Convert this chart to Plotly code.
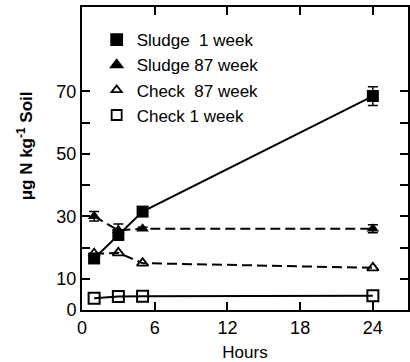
import plotly.graph_objects as go

hours = [1, 3, 5, 24]
sludge_1wk = [16.5, 24.0, 31.5, 68.5]
sludge_1wk_err = [0.8, 1.0, 0.8, 3.0]
sludge_87wk = [30.0, 25.5, 26.0, 26.0]
sludge_87wk_err = [1.5, 2.0, 0.5, 1.3]
check_87wk = [18.0, 18.3, 15.0, 13.5]
check_1wk = [3.8, 4.3, 4.4, 4.6]

legend_names = ["Sludge  1 week", "Sludge 87 week", "Check  87 week", "Check 1 week"]
y_ticks = [0, 10, 30, 50, 70]
y_minor_ticks = [20, 40, 60]
x_ticks = [0, 6, 12, 18, 24]

FONT = "Arial, Liberation Sans, Helvetica, sans-serif"

fig = go.Figure()

# data traces
fig.add_trace(go.Scatter(x=hours, y=check_1wk, mode="lines+markers",
                         line=dict(color="black", width=2),
                         marker=dict(symbol="square-open", size=11, color="black", line=dict(width=2)),
                         showlegend=False))
fig.add_trace(go.Scatter(x=hours, y=check_87wk, mode="lines+markers",
                         line=dict(color="black", width=2, dash="10px,5px"),
                         marker=dict(symbol="triangle-up-open", size=10, color="black", line=dict(width=1.8)),
                         showlegend=False))
fig.add_trace(go.Scatter(x=hours, y=sludge_87wk, mode="lines+markers",
                         line=dict(color="black", width=2, dash="10px,5px"),
                         marker=dict(symbol="triangle-up", size=11, color="black"),
                         error_y=dict(type="data", array=sludge_87wk_err, color="black", thickness=1.5, width=5),
                         showlegend=False))
fig.add_trace(go.Scatter(x=hours, y=sludge_1wk, mode="lines+markers",
                         line=dict(color="black", width=2),
                         marker=dict(symbol="square", size=12, color="black"),
                         error_y=dict(type="data", array=sludge_1wk_err, color="black", thickness=1.5, width=5),
                         showlegend=False))

# legend-only entries (markers only, as in the original)
leg_symbols = ["square", "triangle-up", "triangle-up-open", "square-open"]
leg_sizes = [11, 10, 9, 10]
for name, sym, sz in zip(legend_names, leg_symbols, leg_sizes):
    fig.add_trace(go.Scatter(x=[None], y=[None], mode="markers", name=name,
                             marker=dict(symbol=sym, size=sz, color="black", line=dict(width=1.8, color="black"))))

fig.update_layout(
    width=410, height=362,
    margin=dict(l=82, r=0, t=7, b=52),
    paper_bgcolor="white", plot_bgcolor="white",
    font=dict(family=FONT, color="black", size=18),
    legend=dict(x=0.045, y=0.95, xanchor="left", yanchor="top",
                bgcolor="rgba(0,0,0,0)", borderwidth=0,
                font=dict(size=17, family=FONT), tracegroupgap=0, itemwidth=30),
    showlegend=True,
)

fig.update_xaxes(range=[0, 26.9], tickvals=x_ticks, ticktext=[str(v) for v in x_ticks],
                 ticks="inside", ticklen=8, tickwidth=1.5, tickcolor="black",
                 showline=True, linecolor="black", linewidth=2, mirror="ticks",
                 showgrid=False, zeroline=False,
                 tickfont=dict(size=18, family=FONT),
                 title=dict(text="Hours", font=dict(size=17, family=FONT), standoff=11))
fig.update_yaxes(range=[0, 97], tickvals=y_ticks, ticktext=[str(v) for v in y_ticks],
                 ticks="inside", ticklen=8, tickwidth=1.5, tickcolor="black",
                 minor=dict(tickvals=y_minor_ticks, ticks="inside", ticklen=8, tickwidth=1.5,
                            tickcolor="black", showgrid=False),
                 showline=True, linecolor="black", linewidth=2, mirror="ticks",
                 showgrid=False, zeroline=False,
                 tickfont=dict(size=18, family=FONT))

fig.add_annotation(text="<b>μg N kg<sup>-1</sup> Soil</b>", textangle=-90,
                   xref="paper", yref="paper", x=-(82 - 25) / 328, y=1 - (146 - 7) / 303,
                   xanchor="center", yanchor="middle", showarrow=False,
                   font=dict(size=17, family=FONT))

fig.write_html("out.html", config={"displayModeBar": False},
               post_script="document.body.style.margin='0';document.body.style.padding='0';"
                           "document.documentElement.style.overflow='hidden';")
